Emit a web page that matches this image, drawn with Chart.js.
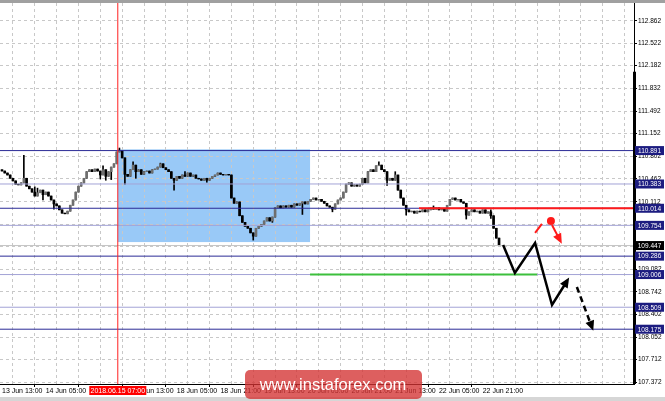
<!DOCTYPE html>
<html>
<head>
<meta charset="utf-8">
<script src="https://cdn.jsdelivr.net/npm/chart.js@4.4.1/dist/chart.umd.min.js"></script>
<style>
  html, body { margin: 0; padding: 0; background: #fff; overflow: hidden; }
  #wrap { width: 665px; height: 401px; position: relative; }
</style>
</head>
<body>
<div id="wrap"><canvas id="chart"></canvas></div>
<script>
// USDJPY H1 closes, one per bar
const closes = [
  110.58,110.55,110.52,110.47,110.43,110.38,110.37,110.40,110.47,110.35,
  110.31,110.26,110.20,110.25,110.29,110.22,110.26,110.20,110.14,110.08,
  110.05,109.99,109.94,109.93,109.97,110.06,110.14,110.26,110.35,110.40,
  110.47,110.57,110.60,110.57,110.61,110.58,110.52,110.60,110.50,110.57,
  110.64,110.69,110.87,110.89,110.78,110.53,110.50,110.60,110.67,110.57,
  110.60,110.53,110.57,110.58,110.55,110.60,110.61,110.64,110.69,110.63,
  110.60,110.57,110.47,110.44,110.50,110.47,110.52,110.50,110.55,110.50,
  110.52,110.47,110.46,110.44,110.47,110.44,110.47,110.50,110.52,110.55,
  110.53,110.52,110.53,110.52,110.17,110.09,110.11,109.90,109.80,109.74,
  109.71,109.64,109.59,109.71,109.74,109.77,109.82,109.87,109.82,109.88,
  110.02,110.05,110.02,110.05,110.03,110.06,110.03,110.08,110.06,110.09,
  110.11,110.08,110.12,110.15,110.17,110.14,110.15,110.12,110.09,110.05,
  110.03,110.00,110.08,110.14,110.17,110.26,110.38,110.40,110.35,110.37,
  110.35,110.38,110.47,110.40,110.57,110.60,110.57,110.66,110.67,110.60,
  110.57,110.44,110.47,110.44,110.52,110.29,110.17,110.06,109.99,109.96,
  109.97,109.94,109.97,109.96,109.99,109.96,109.99,110.02,110.00,110.02,
  109.99,110.00,109.97,110.06,110.15,110.17,110.14,110.15,110.11,110.09,
  109.91,109.96,109.99,109.96,109.97,109.94,109.99,109.94,109.96,109.90,
  109.71,109.56,109.447
];
const firstOpen = 110.60;
// bars with visible shadows
const spikeIdx  = [8, 12, 13, 15, 19, 36, 37, 38, 40, 43, 45, 48, 49, 58, 63, 67, 75,
                   92, 99, 110, 121, 134, 138, 141, 144, 148, 158, 170, 179];
const spikeHigh = [110.82, 110.34, 110.32, null, null, null, 110.66, null, null, 110.93, null, 110.72, null, 110.70, null, 110.57, null,
                   null, null, null, null, null, 110.72, 110.57, 110.57, null, 110.05, null, 109.99];
const spikeLow  = [null, null, null, 110.14, 110.00, 110.46, null, 110.44, 110.45, null, 110.38, null, 110.47, null, 110.29, null, 110.41,
                   109.53, 109.80, 109.92, 109.96, 110.44, null, 110.36, null, 109.91, null, 109.85, 109.86];

const timeLabels = ['13 Jun 13:00','14 Jun 05:00','14 Jun 21:00','15 Jun 13:00','18 Jun 05:00',
  '18 Jun 21:00','19 Jun 13:00','20 Jun 05:00','20 Jun 21:00','21 Jun 13:00','22 Jun 05:00','22 Jun 21:00'];
const priceTicks = [112.862,112.522,112.182,111.832,111.492,111.152,110.802,110.462,110.112,
  109.772,109.432,109.082,108.742,108.402,108.052,107.712,107.372];

const levels     = [110.891, 110.383, 110.014, 109.754, 109.286, 109.006, 108.509, 108.175];
const levelMajor = [true, false, true, false, true, false, false, true];
const bid = 109.447;

const markBar = 42.4, markLabel = '2018.06.15 07:00';
const zoneBars = [42.4, 112.8], zonePrices = [109.50, 110.91];
const resistBars = [152.7, 231.4], resistPrice = 110.014;
const supportBars = [112.8, 195.9], supportPrice = 109.006;
const pathBars = [183.5, 187.8, 195.2, 201.4, 206.9];
const pathPrices = [109.455, 109.03, 109.486, 108.543, 108.908];
const nextBars = [210.5, 216.0], nextPrices = [108.817, 108.208];
const altBars = [195.2, 197.7], altPrices = [109.64, 109.775];
const dotBar = 201.0, dotPrice = 109.82;
const redArrowBars = [201.4, 204.3], redArrowPrices = [109.76, 109.53];
const scaleBarTop = 112.09;

const X_MIN = -0.732, X_MAX = 231.42, Y_MIN = 107.342, Y_MAX = 113.135;

const opens = closes.map((c, i) => i ? closes[i - 1] : firstOpen);
const bodies = closes.map((c, i) => ({x: i, y: [opens[i], c]}));
const wicks = closes.map((c, i) => {
  let hi = Math.max(opens[i], c), lo = Math.min(opens[i], c);
  const s = spikeIdx.indexOf(i);
  if (s >= 0) {
    if (spikeHigh[s] != null) hi = Math.max(hi, spikeHigh[s]);
    if (spikeLow[s] != null) lo = Math.min(lo, spikeLow[s]);
  }
  return {x: i, y: [lo, hi]};
});
const pts = (xs, ys) => xs.map((v, i) => ({x: v, y: ys[i]}));
const hline = (p, color, order, w) => ({
  type: 'line', data: [{x: X_MIN, y: p}, {x: X_MAX, y: p}], borderColor: color,
  borderWidth: w || 1, pointRadius: 0, order: order
});
const noPad = s => { s.paddingLeft = 0; s.paddingRight = 0; s.paddingTop = 0; s.paddingBottom = 0; };

const datasets = [
  {type: 'bar', data: wicks, backgroundColor: '#000', barThickness: 1, grouped: false, order: 21},
  {type: 'bar', data: bodies, grouped: false, barThickness: 2, order: 20,
   backgroundColor: ctx => { const r = ctx.raw; return r && r.y[1] < r.y[0] ? '#000' : '#6e6e6e'; }},
  ...levels.map((l, i) => hline(l, levelMajor[i] ? '#2b2b96' : '#a3a3d6', 10)),
  hline(bid, '#c4c4c4', 11),
  {type: 'line', data: [{x: markBar, y: Y_MIN}, {x: markBar, y: Y_MAX}], borderColor: '#ff2020', borderWidth: 1, pointRadius: 0, order: 9},
  {type: 'line', data: pts(resistBars, [resistPrice, resistPrice]), borderColor: '#ff1a1a', borderWidth: 2, pointRadius: 0, order: 5},
  {type: 'line', data: pts(supportBars, [supportPrice, supportPrice]), borderColor: '#3cc03c', borderWidth: 2, pointRadius: 0, order: 5},
  {type: 'line', data: pts(pathBars, pathPrices), borderColor: '#000', borderWidth: 2.5, pointRadius: 0, order: 2, arrowHead: '#000'},
  {type: 'line', data: pts(nextBars, nextPrices), borderColor: '#000', borderWidth: 2.5, borderDash: [6, 4], pointRadius: 0, order: 2, arrowHead: '#000'},
  {type: 'line', data: pts(altBars, altPrices), borderColor: '#ff1a1a', borderWidth: 2, pointRadius: 0, order: 2},
  {type: 'line', data: pts(redArrowBars, redArrowPrices), borderColor: '#ff1a1a', borderWidth: 2, pointRadius: 0, order: 2, arrowHead: '#ff1a1a'},
  {type: 'line', data: [{x: dotBar, y: dotPrice}], pointRadius: 4, pointBackgroundColor: '#ff1a1a', pointBorderWidth: 0, showLine: false, order: 1}
];

const overlay = {
  id: 'overlay',
  beforeDraw(chart) {
    const {ctx, scales: {x, y}} = chart;
    ctx.save();
    ctx.fillStyle = '#fff';
    ctx.fillRect(0, 0, chart.width, chart.height);
    ctx.fillStyle = '#a0a0a0';
    ctx.fillRect(0, 0, chart.width, 3);
    ctx.fillStyle = '#d6d6d6';
    ctx.fillRect(0, 397, chart.width, 4);
    const x1 = x.getPixelForValue(zoneBars[0]), x2 = x.getPixelForValue(zoneBars[1]);
    const y1 = y.getPixelForValue(zonePrices[1]), y2 = y.getPixelForValue(zonePrices[0]);
    ctx.fillStyle = '#99c9f7';
    ctx.fillRect(x1, y1, x2 - x1, y2 - y1);
    ctx.restore();
  },
  afterDatasetsDraw(chart) {
    const ctx = chart.ctx;
    chart.data.datasets.forEach((ds, i) => {
      if (!ds.arrowHead) return;
      const el = chart.getDatasetMeta(i).data;
      const a = el[el.length - 2], b = el[el.length - 1];
      const ang = Math.atan2(b.y - a.y, b.x - a.x);
      ctx.save();
      ctx.translate(b.x, b.y);
      ctx.rotate(ang);
      ctx.fillStyle = ds.arrowHead;
      ctx.beginPath();
      ctx.moveTo(4, 0);
      ctx.lineTo(-6, -4.5);
      ctx.lineTo(-6, 4.5);
      ctx.closePath();
      ctx.fill();
      ctx.restore();
    });
  },
  afterDraw(chart) {
    const {ctx, scales: {x, y}, chartArea} = chart;
    ctx.save();
    // thick part of the price scale edge
    const yt = y.getPixelForValue(scaleBarTop);
    ctx.fillStyle = '#000';
    ctx.fillRect(chartArea.right - 1, yt, 3, chartArea.bottom - yt);
    ctx.font = '6.5px "Liberation Sans"';
    ctx.textAlign = 'center';
    ctx.textBaseline = 'middle';
    const box = (p, bg) => {
      const py = y.getPixelForValue(p);
      ctx.fillStyle = bg;
      ctx.fillRect(chartArea.right + 1, py - 4.5, 29, 9);
      ctx.fillStyle = '#fff';
      ctx.fillText(p.toFixed(3), chartArea.right + 15.5, py + 0.5);
    };
    levels.forEach(l => box(l, '#1c1c80'));
    box(bid, '#000');
    // time of the marker line
    const mx = x.getPixelForValue(markBar);
    ctx.fillStyle = '#ff0000';
    ctx.fillRect(mx - 28.5, 386, 57, 9);
    ctx.fillStyle = '#fff';
    ctx.font = '7px "Liberation Sans"';
    ctx.fillText(markLabel, mx, 391);
    // watermark
    ctx.fillStyle = 'rgba(212, 50, 50, 0.78)';
    ctx.beginPath();
    ctx.roundRect(245, 370, 177, 29, 5);
    ctx.fill();
    ctx.fillStyle = '#fff';
    ctx.font = '16.5px "Liberation Sans"';
    ctx.fillText('www.instaforex.com', 333, 385);
    ctx.restore();
  }
};

new Chart(document.getElementById('chart'), {
  type: 'bar',
  data: {datasets},
  options: {
    responsive: true,
    maintainAspectRatio: false,
    animation: false,
    layout: {autoPadding: false, padding: {top: 3, bottom: 4, left: 0, right: 0}},
    plugins: {legend: {display: false}, tooltip: {enabled: false}},
    scales: {
      x: {
        type: 'linear', min: X_MIN, max: X_MAX, offset: false,
        afterFit: s => { s.height = 13; noPad(s); },
        afterBuildTicks: s => {
          s.ticks = [];
          for (let v = 0; v <= 224; v += 8) s.ticks.push({value: v});
        },
        ticks: {
          autoSkip: false, maxRotation: 0, align: 'start', padding: 0,
          color: '#000', font: {family: 'Liberation Sans', size: 7},
          callback: v => (v % 16 === 0 && timeLabels[v / 16]) ? timeLabels[v / 16] : ''
        },
        grid: {
          color: '#c8c8c8', tickLength: 3,
          tickColor: c => (c.tick && c.tick.value % 16 === 0 && timeLabels[c.tick.value / 16]) ? '#000' : 'rgba(0,0,0,0)'
        },
        border: {color: '#000', width: 1, dash: [3, 3]}
      },
      y: {
        position: 'right', min: Y_MIN, max: Y_MAX,
        afterFit: s => { s.width = 31; noPad(s); },
        afterBuildTicks: s => { s.ticks = priceTicks.map(v => ({value: v})); },
        ticks: {
          autoSkip: false, padding: 1, color: '#000',
          font: {family: 'Liberation Sans', size: 6.5},
          callback: v => v.toFixed(3)
        },
        grid: {color: '#c8c8c8', tickLength: 3, tickColor: '#000'},
        border: {color: '#000', width: 1, dash: [3, 3]}
      }
    }
  },
  plugins: [overlay]
});
</script>
</body>
</html>
